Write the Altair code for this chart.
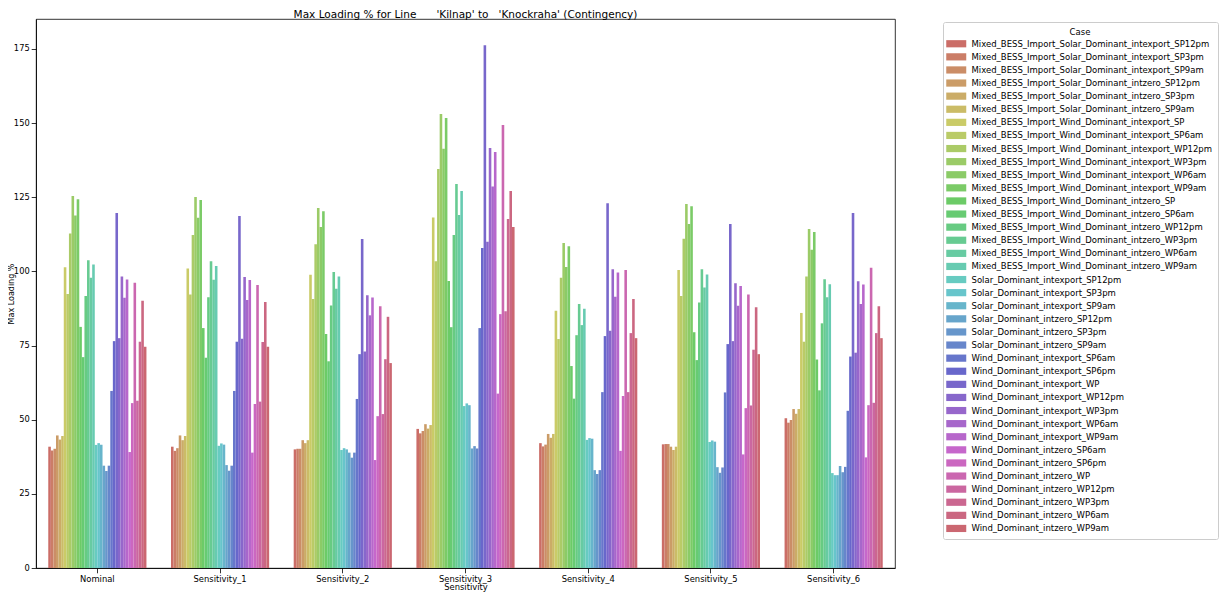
import colorsys
import altair as alt
import pandas as pd

sensitivities = ["Nominal", "Sensitivity_1", "Sensitivity_2", "Sensitivity_3",
                 "Sensitivity_4", "Sensitivity_5", "Sensitivity_6"]

cases = [
    "Mixed_BESS_Import_Solar_Dominant_intexport_SP12pm",
    "Mixed_BESS_Import_Solar_Dominant_intexport_SP3pm",
    "Mixed_BESS_Import_Solar_Dominant_intexport_SP9am",
    "Mixed_BESS_Import_Solar_Dominant_intzero_SP12pm",
    "Mixed_BESS_Import_Solar_Dominant_intzero_SP3pm",
    "Mixed_BESS_Import_Solar_Dominant_intzero_SP9am",
    "Mixed_BESS_Import_Wind_Dominant_intexport_SP",
    "Mixed_BESS_Import_Wind_Dominant_intexport_SP6am",
    "Mixed_BESS_Import_Wind_Dominant_intexport_WP12pm",
    "Mixed_BESS_Import_Wind_Dominant_intexport_WP3pm",
    "Mixed_BESS_Import_Wind_Dominant_intexport_WP6am",
    "Mixed_BESS_Import_Wind_Dominant_intexport_WP9am",
    "Mixed_BESS_Import_Wind_Dominant_intzero_SP",
    "Mixed_BESS_Import_Wind_Dominant_intzero_SP6am",
    "Mixed_BESS_Import_Wind_Dominant_intzero_WP12pm",
    "Mixed_BESS_Import_Wind_Dominant_intzero_WP3pm",
    "Mixed_BESS_Import_Wind_Dominant_intzero_WP6am",
    "Mixed_BESS_Import_Wind_Dominant_intzero_WP9am",
    "Solar_Dominant_intexport_SP12pm",
    "Solar_Dominant_intexport_SP3pm",
    "Solar_Dominant_intexport_SP9am",
    "Solar_Dominant_intzero_SP12pm",
    "Solar_Dominant_intzero_SP3pm",
    "Solar_Dominant_intzero_SP9am",
    "Wind_Dominant_intexport_SP6am",
    "Wind_Dominant_intexport_SP6pm",
    "Wind_Dominant_intexport_WP",
    "Wind_Dominant_intexport_WP12pm",
    "Wind_Dominant_intexport_WP3pm",
    "Wind_Dominant_intexport_WP6am",
    "Wind_Dominant_intexport_WP9am",
    "Wind_Dominant_intzero_SP6am",
    "Wind_Dominant_intzero_SP6pm",
    "Wind_Dominant_intzero_WP",
    "Wind_Dominant_intzero_WP12pm",
    "Wind_Dominant_intzero_WP3pm",
    "Wind_Dominant_intzero_WP6am",
    "Wind_Dominant_intzero_WP9am",
]

nominal = [40.9, 39.6, 40.2, 44.7, 43.3, 44.5, 101.4, 92.4, 112.8, 125.4, 118.9, 124.3,
           81.3, 71.1, 91.7, 103.8, 97.9, 102.3, 41.5, 42.1, 41.6, 34.5, 32.7, 34.5,
           59.7, 76.5, 119.7, 77.5, 98.3, 91.1, 97.3, 39.1, 55.6, 96.2, 56.4, 76.3, 90.1, 74.6]
sensitivity_1 = [40.9, 39.5, 40.4, 44.7, 43.1, 44.5, 101.0, 92.2, 112.3, 125.1, 118.1, 124.1,
                 80.9, 70.9, 91.3, 103.4, 97.2, 101.8, 41.2, 42.0, 41.6, 34.7, 32.8, 34.5,
                 59.7, 76.3, 118.7, 77.3, 98.1, 90.4, 97.1, 38.9, 55.3, 95.4, 56.1, 76.2, 89.7, 74.6]
sensitivity_2 = [40.0, 40.2, 40.2, 43.1, 42.1, 43.1, 98.9, 90.7, 109.2, 121.4, 115.0, 120.3,
                 78.9, 69.7, 88.5, 99.8, 94.2, 98.3, 39.8, 40.4, 40.0, 38.9, 37.2, 38.9,
                 57.0, 72.1, 110.9, 73.0, 92.0, 85.2, 91.2, 36.4, 51.2, 88.3, 51.9, 70.4, 84.7, 69.1]
sensitivity_3 = [46.9, 45.4, 46.2, 48.5, 47.0, 48.2, 118.2, 103.4, 134.5, 153.1, 141.4, 151.7,
                 96.8, 81.2, 112.3, 129.5, 119.0, 127.1, 54.6, 55.5, 54.9, 40.3, 41.1, 40.3,
                 80.9, 107.9, 176.3, 110.0, 141.6, 128.6, 140.3, 58.8, 85.6, 149.4, 86.6, 117.7, 127.1, 115.0]
sensitivity_4 = [42.1, 41.0, 41.6, 45.2, 43.9, 45.2, 86.7, 77.2, 97.9, 109.6, 101.5, 108.5,
                 68.1, 57.1, 78.5, 89.0, 81.9, 87.4, 43.2, 43.8, 43.6, 33.0, 31.7, 33.0,
                 59.3, 78.2, 123.0, 80.0, 100.7, 91.5, 99.6, 39.5, 58.0, 100.5, 59.3, 79.2, 90.7, 77.5]
sensitivity_5 = [41.7, 41.8, 41.8, 40.9, 39.8, 40.9, 100.5, 91.7, 111.0, 122.7, 116.0, 122.0,
                 79.5, 70.1, 89.5, 100.7, 94.6, 99.0, 42.5, 43.0, 42.6, 34.0, 32.1, 33.9,
                 59.2, 75.5, 116.0, 76.5, 96.0, 88.4, 95.1, 38.3, 53.9, 92.2, 54.8, 73.6, 87.9, 72.1]
sensitivity_6 = [50.5, 49.0, 49.9, 53.6, 52.0, 53.6, 86.0, 76.3, 98.3, 114.3, 107.3, 113.3,
                 70.3, 59.9, 82.5, 97.4, 91.3, 95.7, 32.0, 31.3, 31.3, 34.4, 32.3, 34.1,
                 53.0, 71.3, 119.7, 72.6, 96.7, 89.0, 95.6, 37.3, 54.9, 101.2, 55.7, 79.2, 88.3, 77.5]

series = [nominal, sensitivity_1, sensitivity_2, sensitivity_3,
          sensitivity_4, sensitivity_5, sensitivity_6]

rows = []
for sens, vals in zip(sensitivities, series):
    for case, v in zip(cases, vals):
        rows.append({"Sensitivity": sens, "Case": case, "Max Loading %": v})
df = pd.DataFrame(rows)

# seaborn-like "hls" palette, desaturated as barplot does
n = len(cases)
palette = []
for i in range(n):
    h = (i / n + 0.01) % 1.0
    r, g, b = colorsys.hls_to_rgb(h, 0.6, 0.65 * 0.75)
    palette.append("#%02x%02x%02x" % (round(r * 255), round(g * 255), round(b * 255)))

ymax = float(df["Max Loading %"].max()) * 1.05
FONT = "DejaVu Sans"

chart = alt.Chart(df).mark_bar().encode(
    x=alt.X("Sensitivity:N", sort=sensitivities,
            scale=alt.Scale(paddingInner=0.2, paddingOuter=0.1),
            axis=alt.Axis(title="Sensitivity", labelAngle=0, labelFontSize=8.4,
                          titleFontSize=8.4, titlePadding=0, tickSize=4.8,
                          labelPadding=1.5)),
    xOffset=alt.XOffset("Case:N", sort=cases,
                        scale=alt.Scale(paddingInner=0, paddingOuter=0)),
    y=alt.Y("Max Loading %:Q",
            scale=alt.Scale(domain=[0, ymax], nice=False, zero=True),
            axis=alt.Axis(title="Max Loading %", values=[0, 25, 50, 75, 100, 125, 150, 175],
                          grid=False, labelFontSize=8.3, titleFontSize=8,
                          tickSize=4.8, labelPadding=2, titleX=-23,
                          titleBaseline="alphabetic")),
    color=alt.Color("Case:N", sort=cases,
                    scale=alt.Scale(domain=cases, range=palette),
                    legend=alt.Legend(
                        title="Case", orient="none", legendX=907, legendY=3,
                        direction="vertical", columns=1,
                        symbolType="M-2.5,-0.9L2.5,-0.9L2.5,0.9L-2.5,0.9Z",
                        symbolSize=64, symbolOffset=3, symbolStrokeWidth=0,
                        symbolOpacity=1,
                        labelOffset=11, padding=6, rowPadding=4.1,
                        labelFontSize=8.5, titleFontSize=8.5, titleAnchor="middle",
                        titleFontWeight="normal", titlePadding=3,
                        strokeColor="#cccccc", cornerRadius=2, fillColor="white",
                        symbolLimit=100, labelLimit=400)),
).properties(
    width=859,
    height=549,
    title=alt.TitleParams(
        "Max Loading % for Line\u00a0\u00a0\u00a0\u00a0\u00a0 'Kilnap' to \u00a0\u00a0'Knockraha' (Contingency)",
        fontSize=10.5, fontWeight="normal", anchor="middle", offset=4, dy=5,
        color="black", font=FONT),
    autosize=alt.AutoSizeParams(type="none"),
    padding={"left": 28, "top": 11, "right": 325, "bottom": 24},
).configure_view(
    stroke="black", strokeWidth=0.8
).configure_axis(
    domainColor="black", tickColor="black", labelColor="black", titleColor="black",
    labelFont=FONT, titleFont=FONT, titleFontWeight="normal", domainWidth=0.8, tickWidth=0.8
).configure_legend(
    labelFont=FONT, titleFont=FONT, labelColor="black", titleColor="black"
)

chart.save("out.html", embed_options={"renderer": "svg", "actions": False})
